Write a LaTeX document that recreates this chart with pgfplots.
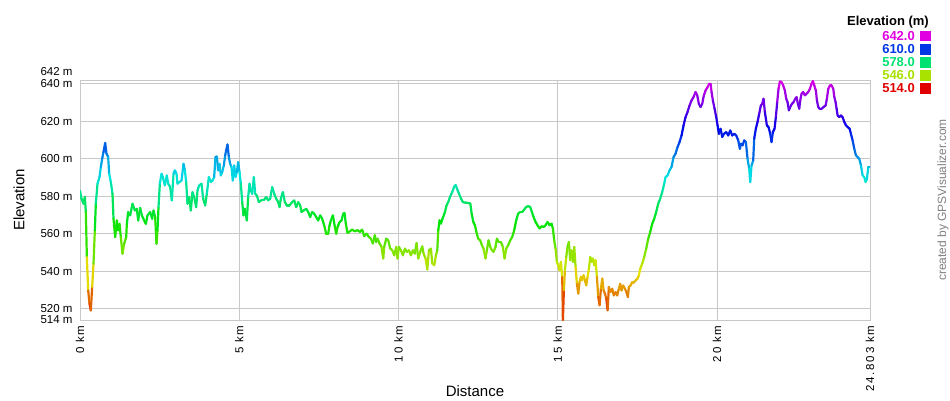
\documentclass[border=0pt]{standalone}
\usepackage{fontspec}
\setmainfont{Liberation Sans}
\newfontfamily\spacedfont[LetterSpace=15]{Liberation Sans}
\usepackage{pgfplots}
\pgfplotsset{compat=1.18}
\usepackage{pgfplotstable}
\definecolor{gridgray}{RGB}{200,200,200}
\definecolor{c642}{RGB}{225,0,225}
\definecolor{c610}{RGB}{0,56,230}
\definecolor{c578}{RGB}{0,225,112}
\definecolor{c546}{RGB}{169,225,0}
\definecolor{c514}{RGB}{225,0,0}
\definecolor{credgray}{RGB}{128,128,128}

\pgfplotstableread{
km m
0 583
0.047 578.7
0.110 576
0.152 579.6
0.183 571.6
0.215 547.6
0.257 529.8
0.298 522.7
0.340 519.1
0.382 531.6
0.424 544
0.466 561.8
0.497 576
0.549 586.7
0.612 590.2
0.654 595.6
0.696 600
0.738 603.6
0.790 608.4
0.832 602.7
0.884 601
0.916 592
0.968 587.6
1.020 581.3
1.052 568
1.104 558.2
1.156 567.1
1.198 561.8
1.240 565.3
1.282 558.2
1.334 549.3
1.387 554.7
1.450 558.2
1.471 565.3
1.513 571.6
1.575 569.8
1.648 576
1.722 572.4
1.784 573.3
1.826 567.1
1.889 573.8
1.942 569.8
2.015 567.1
2.067 565.3
2.119 569.8
2.203 571.6
2.266 568
2.308 572.4
2.360 568.9
2.402 554.7
2.433 561.8
2.465 574.2
2.507 586.7
2.559 592
2.601 590.2
2.664 585.8
2.726 591.1
2.768 586.7
2.831 584.9
2.883 577.8
2.936 592
2.978 593.8
3.030 592
3.061 586.7
3.124 587.6
3.187 588.4
3.250 597.3
3.292 593.8
3.333 587.6
3.375 576
3.428 579.6
3.480 572.4
3.532 582.2
3.585 579.6
3.647 574.2
3.689 583.1
3.742 585.8
3.815 586.7
3.867 578.7
3.930 575.1
3.982 581.3
4.045 590.2
4.108 587.6
4.160 588.4
4.212 590.2
4.254 600.9
4.296 601.2
4.338 593.8
4.380 597.3
4.422 591.1
4.464 592.9
4.516 596.4
4.558 601.8
4.589 604.4
4.631 607.6
4.673 600.9
4.714 597.3
4.756 595.6
4.798 588.4
4.840 596.4
4.882 590.2
4.924 592.9
4.966 598.2
5.008 592.9
5.050 586.7
5.092 576.9
5.133 569.8
5.175 573.3
5.238 567.1
5.280 579.6
5.322 586.7
5.364 583.1
5.406 581.3
5.458 590.2
5.500 581.3
5.552 580.4
5.615 576.9
5.689 577.8
5.762 577.8
5.846 579.6
5.908 577.8
5.971 578.7
6.034 584.9
6.097 581.3
6.160 578.7
6.222 576.9
6.264 574.2
6.306 578.7
6.369 582.2
6.432 576.9
6.494 575.1
6.578 575.1
6.662 576.9
6.725 577.8
6.788 574.2
6.850 576.9
6.913 575.1
6.955 571.6
7.018 572.4
7.102 573.3
7.164 571.6
7.227 568.9
7.290 571.6
7.353 570.7
7.415 568.9
7.478 567.1
7.541 569.8
7.604 568
7.667 564.4
7.729 560
7.792 560
7.834 564.4
7.876 567.1
7.939 569.8
8.002 563.6
8.044 560
8.086 563.6
8.149 566.2
8.211 567.1
8.264 570.7
8.304 571.1
8.346 565.4
8.398 560.4
8.472 561.3
8.545 562.2
8.629 561.3
8.713 561.9
8.787 561
8.859 562.2
8.922 558.7
8.996 560.1
9.069 558.3
9.132 557.4
9.195 554.8
9.257 559.2
9.300 555.6
9.342 557.4
9.404 554.8
9.467 553
9.520 546.8
9.551 553
9.614 557.4
9.677 556.5
9.740 552.1
9.802 551.2
9.865 548.5
9.928 553
9.970 546.8
10.012 553
10.075 551.2
10.138 548.5
10.201 552.1
10.263 550.3
10.326 551.2
10.389 548.5
10.452 551.2
10.514 549.4
10.567 555.1
10.619 546.8
10.682 550.3
10.745 553.3
10.787 549.4
10.850 546.8
10.902 540.9
10.955 551.2
11.018 552.1
11.060 544.1
11.122 543.2
11.175 548.5
11.217 551.2
11.248 561.9
11.290 567.2
11.332 565.4
11.384 568.1
11.458 571.6
11.510 575.2
11.563 577
11.615 579.6
11.688 582.3
11.751 585.3
11.793 586
11.835 584.1
11.898 581.4
11.961 578.8
12.024 576.8
12.107 576.6
12.191 576.4
12.254 576.1
12.296 570.8
12.348 566.3
12.401 564.5
12.443 561
12.501 557.4
12.564 556.5
12.617 553.9
12.669 552.1
12.732 546.8
12.774 551.2
12.826 556.5
12.879 553
12.931 551.2
12.983 550.3
13.046 553
13.088 557.4
13.141 555.6
13.214 555.6
13.277 553
13.329 546.8
13.382 552.1
13.444 553.9
13.507 556.5
13.570 558.3
13.633 561.9
13.695 567.2
13.758 570.8
13.821 571.6
13.884 571.6
13.946 572.9
14.009 574.3
14.072 574.7
14.135 574.3
14.187 571.6
14.239 569
14.302 566.3
14.365 564.5
14.428 562.8
14.491 564
14.553 563.6
14.616 564.5
14.679 566.3
14.742 564.5
14.805 565.4
14.847 562.8
14.888 556.5
14.930 552.1
14.972 545
15.014 543.2
15.056 540.5
15.098 545
15.140 537
15.161 514
15.192 529.9
15.224 540.5
15.266 547.6
15.307 553
15.349 555.6
15.391 545.9
15.433 551.2
15.475 545
15.517 553
15.559 542.3
15.601 533.4
15.643 528.1
15.685 534.3
15.727 537
15.769 535.2
15.810 537.9
15.852 535.2
15.894 532.5
15.936 537
15.978 541.4
16.020 547.6
16.062 545
16.104 546.8
16.145 543.2
16.187 545.9
16.229 537
16.271 526.3
16.313 521.9
16.355 530.8
16.397 536.1
16.439 529.9
16.481 528.1
16.523 525.4
16.565 519.2
16.604 531.6
16.656 528.9
16.708 530.7
16.761 527.1
16.813 528.9
16.865 527.1
16.918 530.7
16.960 533.3
17.001 529.8
17.054 532.4
17.106 530.7
17.158 528.9
17.200 526.2
17.232 531.6
17.284 532.4
17.337 534.2
17.389 533.9
17.441 535.1
17.504 536
17.546 537.8
17.588 541.3
17.651 544
17.714 547.6
17.776 552
17.839 557.3
17.902 560.9
17.965 565.3
18.028 568
18.090 571.6
18.153 576
18.216 578.7
18.279 582.2
18.342 586.7
18.384 590.2
18.446 591.1
18.509 593.8
18.572 595.6
18.635 600.9
18.698 602.7
18.760 606.2
18.823 608.9
18.886 612.4
18.949 617.8
19.011 622.2
19.074 624.9
19.137 628.4
19.200 631.1
19.263 632.9
19.325 635.6
19.378 633.8
19.430 629.3
19.483 627.6
19.535 629.3
19.587 633.8
19.640 636.4
19.703 638.2
19.755 640
19.797 640
19.828 635.6
19.870 631.1
19.923 626.7
19.975 622.2
20.017 617.8
20.059 613.3
20.111 616
20.164 611.6
20.216 613.3
20.289 614.2
20.352 612.4
20.415 615.1
20.478 612.4
20.541 613.3
20.603 612.4
20.666 609.8
20.719 605.3
20.749 608
20.801 607.1
20.853 609.8
20.906 608.9
20.958 600
21.010 594.7
21.042 587.6
21.083 596.4
21.136 599.1
21.167 610.7
21.219 616
21.272 619.6
21.324 624
21.376 628.4
21.418 629.3
21.460 632
21.502 624.9
21.565 617.8
21.617 616.9
21.670 613.3
21.711 608.9
21.753 614.2
21.805 616
21.847 622.2
21.889 630.2
21.931 637.3
21.973 641.2
22.025 640.9
22.078 639.1
22.130 636.4
22.172 632
22.214 630.2
22.256 625.8
22.298 627.6
22.350 629.3
22.403 630.2
22.455 632
22.497 632.9
22.539 629.3
22.581 626.7
22.612 631.1
22.654 634.7
22.706 635.6
22.759 633.8
22.811 634.7
22.863 635.6
22.916 637.3
22.968 640
23.010 641.4
23.052 639.1
23.104 636.4
23.136 631.1
23.178 627.6
23.220 626.7
23.283 626.7
23.346 627.6
23.408 628.4
23.450 632
23.492 637.3
23.545 639.1
23.597 639.1
23.650 637.3
23.681 632.9
23.723 630.2
23.754 626.7
23.786 623.1
23.838 622.2
23.890 623.1
23.943 622.2
23.995 619.6
24.048 617.8
24.100 616.9
24.163 616
24.204 613.3
24.257 609.8
24.309 605.3
24.362 601.8
24.414 600.9
24.466 600
24.519 596.4
24.571 591.1
24.623 590.2
24.665 587.6
24.707 589.3
24.749 595.6
24.803 595.6
}\profile

\begin{document}
\begin{tikzpicture}
\path[use as bounding box] (0pt,0pt) rectangle (950pt,400pt);
\begin{axis}[
  at={(80pt,80pt)}, anchor=south west,
  width=790pt, height=240pt, scale only axis,
  xmin=0, xmax=24.803, ymin=514, ymax=642,
  axis line style={draw=gridgray, line width=1pt},
  grid=major,
  major grid style={draw=gridgray, line width=1pt},
  major tick length=0pt,
  xtick={0,5,10,15,20,24.803},
  xticklabels={0 km,5 km,10 km,15 km,20 km,24.803 km},
  x tick label style={rotate=90, anchor=east, font=\spacedfont\fontsize{11.5}{13}\selectfont},
  xticklabel shift=2pt,
  ytick={514,520,540,560,580,600,620,640},
  yticklabels={514 m,520 m,540 m,560 m,580 m,600 m,620 m,640 m},
  y tick label style={font=\fontsize{11.5}{13}\selectfont},
  yticklabel shift=4pt,
  extra y ticks={642},
  extra y tick labels={642 m},
  extra y tick style={grid=none, tick label style={yshift=8.5pt}},
  colormap={gps}{rgb255(0cm)=(228,0,0) rgb255(60cm)=(228,228,0) rgb255(120cm)=(0,228,0) rgb255(180cm)=(0,228,228) rgb255(240cm)=(0,0,232) rgb255(300cm)=(228,0,228)},
  point meta min=514, point meta max=642,
]
\addplot[mesh, point meta=y, line width=2.2pt, line cap=round] table[x=km, y=m] {\profile};
\end{axis}
\node[rotate=90, font=\fontsize{15}{18}\selectfont] at (19pt,200pt) {Elevation};
\node[font=\fontsize{15}{18}\selectfont] at (475pt,9pt) {Distance};
\node[anchor=east, inner sep=0pt, font=\bfseries\fontsize{13}{15}\selectfont] at (929pt,378.3pt) {Elevation (m)};
\node[anchor=east, inner sep=0pt, text=c642, font=\bfseries\fontsize{13}{15}\selectfont] at (915pt,364pt) {642.0};
\node[anchor=east, inner sep=0pt, text=c610, font=\bfseries\fontsize{13}{15}\selectfont] at (915pt,350.7pt) {610.0};
\node[anchor=east, inner sep=0pt, text=c578, font=\bfseries\fontsize{13}{15}\selectfont] at (915pt,337.7pt) {578.0};
\node[anchor=east, inner sep=0pt, text=c546, font=\bfseries\fontsize{13}{15}\selectfont] at (915pt,324.7pt) {546.0};
\node[anchor=east, inner sep=0pt, text=c514, font=\bfseries\fontsize{13}{15}\selectfont] at (915pt,311.7pt) {514.0};
\fill[c642] (920pt,358.7pt) rectangle (931pt,369.3pt);
\fill[c610] (920pt,345.4pt) rectangle (931pt,356pt);
\fill[c578] (920pt,332.4pt) rectangle (931pt,343pt);
\fill[c546] (920pt,319.4pt) rectangle (931pt,330pt);
\fill[c514] (920pt,306.4pt) rectangle (931pt,317pt);
\node[rotate=90, text=credgray, font=\fontsize{12}{14}\selectfont] at (943pt,200pt) {created by GPSVisualizer.com};
\end{tikzpicture}
\end{document}
